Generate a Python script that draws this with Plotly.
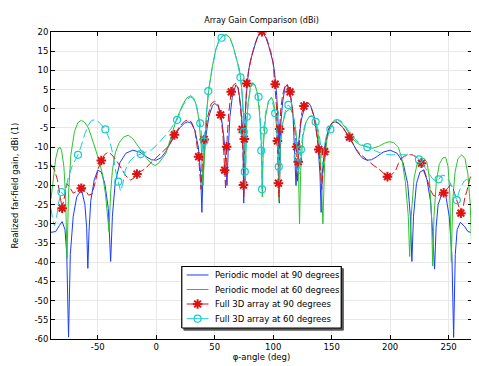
import plotly.graph_objects as go

# ---------------- data ----------------
series_names = ["Periodic model at 90 degrees", "Periodic model at 60 degrees",
                "Full 3D array at 90 degrees", "Full 3D array at 60 degrees"]

blue_points = [(-90,-32.2),(-86,-32.0),(-83,-30.5),(-80.5,-29.4),(-78,-31.5),(-76.5,-38),(-75,-59.5),(-73.5,-38),
    (-71,-28),(-68,-23),(-64,-21),(-61,-25),(-59.5,-31),(-58.5,-41.6),(-57.5,-32),(-56,-24),(-53,-18.5),(-50,-16),
    (-47,-16.5),(-44,-19.5),(-41,-26),(-39,-39.8),(-37.5,-28),(-35,-19),(-31,-14),(-26,-11.6),(-20,-10.8),(-14,-11.3),
    (-8,-12.6),(-4,-13.3),(0,-13.4),(4,-12.8),(8,-11.2),(12,-9),(16,-6.9),(20,-5),(24,-3.8),(27,-3.4),(30,-3.8),
    (33,-5.6),(36,-10),(38,-17),(39,-27),(40,-17),(42,-8),(45,-2),(48,0.8),(50,1.4),(53,0.6),(56,-3),(58,-8),
    (59.5,-14),(60.5,-20),(61.5,-11),(63,-2),(65,3),(68,6.2),(70,5.5),(72,1.5),(73.5,-4),(74.3,-11),(74.8,-24.6),
    (75.4,-8),(76,-2),(77,3.5),(77.7,6.6),(79,10),(80.5,12.5),(82,14.2),(84,16.5),(86,18.3),(88,19.5),(90,20),
    (92,19.5),(94,18.3),(96,16.5),(98,14.2),(99.5,12.5),(101,10),(102.3,6.6),(103,3.5),(104,-2),(104.6,-8),
    (105.2,-24.6),(105.7,-11),(106.5,-4),(108,1.5),(110,5.5),(112,6.2),(115,3),(117,-2),(118.5,-11),(119.5,-20),
    (120.5,-14),(122,-8),(124,-3),(127,0.6),(130,1.4),(132,0.8),(135,-2),(138,-8),(140,-17),(141,-27),(142,-17),
    (144,-10),(147,-5.6),(150,-3.8),(153,-3.4),(156,-3.8),(160,-5),(164,-6.9),(168,-9),(172,-11.2),(176,-12.8),
    (180,-13.4),(184,-13.3),(188,-12.6),(194,-11.3),(200,-10.8),(206,-11.6),(211,-14),(215,-19.5),(217.3,-28),
    (218.6,-39.8),(220,-28),(222.5,-19.5),(225.5,-16.5),(228.5,-16),(231.5,-18.5),(234.5,-24),(236.3,-32),
    (238,-41.8),(239.3,-31),(241,-25),(244.5,-22),(247.5,-22.5),(250.5,-28),(252.8,-38),(254.3,-59.6),
    (255.7,-38),(257.3,-31.5),(260,-29.6),(263.5,-30.6),(266.5,-32),(270,-32.3)]

green_points = [(-90,-23.5),(-88,-18),(-86,-13),(-84,-10.5),(-82.5,-10),(-81,-10.8),(-79,-15),(-77.5,-23),(-76.3,-39),
    (-75,-22),(-73,-12),(-70,-6),(-67,-3.6),(-64,-3),(-61,-3.6),(-58,-5),(-55,-7.5),(-52,-10.5),(-49,-13.5),(-46,-17),
    (-43.5,-22),(-41.5,-28),(-40.4,-32),(-39,-22),(-37.5,-16),(-35,-11.5),(-32,-9),(-28,-7.4),(-24,-6.9),(-20,-7.8),
    (-16,-9.4),(-12,-11.3),(-8,-13),(-4,-14.3),(-1,-14.8),(2,-14.2),(5,-13),(8,-11.8),(11,-9),(14,-5.7),(17,-3),
    (20,-0.8),(23,1.3),(26,2.8),(29.5,3.4),(32,2.8),(34.5,0.8),(36.5,-3),(38.5,-10),(40,-20),(41.5,-9),(43,-1),
    (45,5),(48,11),(51,15.5),(54,18),(57,19.1),(60,19.3),(63,18.5),(66,16),(69,12.5),(71,10.5),(72,8.2),(73,5.5),
    (74.5,-1),(75.5,-8),(76.2,-20),(77,-6),(78.5,1.5),(80.5,5.5),(82.5,6.8),(84.5,6.2),(86.5,4),(88.5,-2),(90,-10),
    (90.7,-23),(91.5,-10),(93.5,-2),(96,2),(98.5,3),(100.5,1.5),(102.5,-3),(104,-10),(105,-24),(106,-10),(108,-4),
    (110.5,-1),(114.5,0.1),(117,-1.5),(119.5,-6),(121.5,-14),(122.5,-30),(123.5,-16),(125.5,-7),(128,-3.5),
    (131,-2),(133.5,-1.8),(136,-3),(138.5,-6.5),(140.5,-13),(142.5,-30),(144,-14),(146,-8),(149,-4.5),(152,-3),
    (155,-2.8),(158,-3.5),(162,-5),(166,-7),(170,-8.5),(174,-9.4),(180,-10),(185,-10.3),(190,-9.8),(195,-9),
    (199,-8.6),(203,-8.8),(207,-10),(210,-13),(213,-19),(215.5,-28),(216.7,-38.5),(218,-28),(220.5,-18),
    (223,-14.5),(226,-13),(229,-12.9),(231.5,-14),(233.5,-18),(235.3,-27),(236.4,-41),(237.5,-28),(239.5,-19),
    (242,-14.5),(245,-12.8),(247.5,-12.7),(249.5,-15),(251,-22),(252.3,-39.8),(253.5,-24),(255.5,-16.5),
    (258,-13),(261.3,-12),(264,-13),(266.5,-17),(268.5,-25),(270,-39)]

red_points = [(-90,-14.5),(-87,-16),(-84.5,-18.5),(-82.5,-22.5),(-80.5,-25.9),(-78.5,-23),(-76.5,-19.5),(-74,-20.5),
    (-71,-22),(-68,-21.5),(-64,-20.7),(-61,-21),(-58,-22.5),(-55,-22.3),(-52,-19),(-49.5,-15.5),(-47,-13.5),
    (-44,-11.9),(-41,-11.3),(-38,-12),(-34,-13.5),(-30,-15.5),(-26,-17.5),(-22,-18.6),(-19,-18),(-16.5,-17),
    (-13,-16.3),(-9,-15.5),(-5,-14.2),(0,-12.8),(5,-11.3),(10,-9.9),(15.5,-6.8),(20,-4.6),(24,-3.3),(27,-2.9),
    (30,-3.4),(33,-5.6),(36.2,-12.5),(37.4,-17),(38.3,-21),(39.2,-15),(41,-8),(44,-2),(47,1.3),(50,2),(53,1),
    (55.1,-1.6),(57,-6.5),(58.5,-16),(59.3,-21),(60.2,-9.9),(62,-1),(64.1,4.4),(66,6.2),(68,6.6),(70,5.3),
    (72,0.5),(73.4,-5.4),(74.2,-12),(74.6,-19.9),(74.9,-23),(75.3,-7.9),(76,-2),(76.7,3),(77.4,6.6),(79,10),
    (80.5,12.5),(82,14.2),(84,16.5),(86,18.3),(88,19.5),(90.4,20.1),(92.5,19.5),(94.5,18.3),(96.5,16.5),
    (98.5,14.2),(100,12),(101.7,6.4),(102.7,1),(103.6,-8.4),(104.5,-19.4),(104.9,-23),(105.5,-5.3),(106.5,0),
    (108,3.5),(110,5.8),(112,6.4),(114.4,4.4),(116.5,0),(118.5,-5.5),(120,-9.9),(120.7,-19),(121.4,-13.8),
    (123,-4.5),(124.5,-1),(126.3,0.7),(128,1.5),(130,1.6),(132,0.8),(134.5,-1.6),(137,-6),(139,-10.6),
    (140.5,-16),(141.4,-21),(142.4,-17),(144,-11.2),(146,-7),(148,-4.8),(150.5,-3.6),(153,-3.2),(156,-3.8),
    (160,-5.2),(165.3,-7.4),(170,-10.2),(173.7,-11.6),(178,-12.8),(182.2,-13.8),(186,-14.8),(190.7,-15.8),
    (194,-16.8),(197.7,-17.7),(201,-17.3),(204.8,-16),(207,-14.3),(209,-13.2),(212,-12.4),(216,-12),(219,-12),
    (221.8,-12.5),(224,-13.2),(226.8,-14.2),(230,-16.8),(232.5,-19),(234.5,-21.2),(237,-22.6),(240,-22.8),
    (243,-22.2),(245.8,-21.9),(249,-20.8),(251.5,-19.8),(253.5,-20.5),(255.5,-22.5),(257.5,-24.5),(259,-26.3),
    (260.5,-27.2),(262.5,-25.5),(264,-23),(265.5,-21.6),(267,-19.8),(268.5,-17.5),(270,-16)]

cyan_points = [(-90,-26),(-88.5,-29),(-87,-30.5),(-85.5,-29),(-83.5,-24.5),(-81.1,-21.7),(-79,-22.5),(-77,-20.5),
    (-75,-17.7),(-72,-15),(-69,-13.2),(-66.9,-12),(-64,-9.5),(-61,-6.5),(-58,-4.2),(-55,-3),(-52,-2.9),(-49,-3.5),
    (-46,-4.5),(-43.5,-5.4),(-40,-8),(-37,-12),(-34.5,-16.5),(-32.5,-19),(-30.5,-21.5),(-28.5,-19.5),(-26.5,-16),
    (-23,-13.8),(-19,-12.6),(-15,-12),(-13.3,-11.8),(-9,-11.4),(-4,-10.7),(0,-9.6),(4,-8.3),(8,-6.8),(12,-5.5),
    (15,-4),(17.8,-2.9),(20,-1.3),(23,0.9),(26,2.4),(29.5,3.1),(32,2.5),(34.5,0.4),(36.5,-2.5),(37.6,-3.8),
    (39,-7.5),(40,-12),(41,-8.5),(42,-4),(43,0),(44.5,4.6),(48,11),(51,15.5),(54,18),(55.8,18.5),(57,19),
    (60,19.2),(63,18.4),(66,16),(69,12.5),(72,8.2),(73.5,4),(74.9,-6),(75.7,-16.4),(76.2,-20),(76.8,-8),
    (77.4,-2.1),(79,2),(80.5,5),(82.5,6.5),(84.5,6),(87.5,3.1),(89,-3),(89.8,-10.9),(90.5,-21),(91.2,-10),
    (91.8,-5.7),(93.5,-1),(96,2),(98.5,2.8),(100.3,0.7),(101.7,-1.2),(103,-5),(104.3,-11),(104.8,-15.1),
    (105.2,-19),(105.8,-10),(107,-5),(109,-2),(111,0.3),(113,1),(115,0.3),(117,-1.5),(119,-5),(120.9,-12.5),
    (122.2,-17),(123.7,-10.6),(125.5,-6),(128,-3.5),(131,-2),(133.5,-2),(136.3,-3.4),(139,-6),(140.8,-10),
    (142.3,-15),(143.5,-10),(145.5,-7),(148.9,-5.4),(152,-3.6),(155,-2.8),(158,-3.2),(162,-4.6),(166,-6.5),
    (170,-8),(175,-9.2),(180.5,-10),(186,-10.8),(192,-11.6),(199,-12),(206,-12),(213,-12),(218,-12),
    (221.8,-12.3),(224.6,-13.2),(227.5,-14.2),(230.2,-15.5),(233,-16.8),(235.9,-18.1),(238.5,-18.8),
    (241.5,-18.4),(244.3,-17.3),(247,-17.5),(250,-18.6),(252.5,-20),(254.2,-21.6),(257,-23.8),(258.5,-22),
    (261.3,-19.9),(263.5,-18.8),(265.5,-18.4),(267.5,-18.8),(270,-19.4)]

red_star_points = [(-80.5,-25.9),(-64.1,-20.7),(-47,-13.5),(-16.5,-17),(15.5,-6.8),(36.2,-12.5),(41,-8),
    (55.1,-1.6),(58.5,-16),(60.2,-9.9),(64.1,4.4),(73.4,-5.4),(74.6,-19.9),(75.3,-7.9),(77.4,6.6),(90.4,20.1),
    (101.7,6.4),(103.6,-8.4),(104.5,-19.4),(105.5,-5.3),(114.4,4.4),(120,-9.9),(121.4,-13.8),(126.3,0.7),
    (139,-10.6),(144,-11.2),(165.3,-7.4),(197.7,-17.7),(226.8,-14.2),(245.8,-21.9),(260.5,-27.2)]

cyan_circle_points = [(-81.1,-21.7),(-66.9,-12),(-43.5,-5.4),(-32.5,-19),(-13.3,-11.8),(17.8,-2.9),(37.6,-3.8),
    (41,-8.5),(44.5,4.6),(55.8,18.5),(72,8.2),(74.9,-6),(75.7,-16.4),(77.4,-2.1),(87.5,3.1),(89.8,-10.9),
    (90.5,-21),(91.8,-5.7),(101.7,-1.2),(104.8,-15.1),(113,1),(120.9,-12.5),(123.7,-10.6),(136.3,-3.4),
    (148.9,-5.4),(180.5,-10),(224.6,-13.2),(241.5,-18.4),(257,-23.8)]

x_tick_vals = [-50, 0, 50, 100, 150, 200, 250]
x_tick_text = ["-50", "0", "50", "100", "150", "200", "250"]
y_tick_vals = [20, 15, 10, 5, 0, -5, -10, -15, -20, -25, -30, -35, -40, -45, -50, -55, -60]
y_tick_text = ["20", "15", "10", "5", "0", "-5", "-10", "-15", "-20", "-25", "-30", "-35", "-40",
               "-45", "-50", "-55", "-60"]

# ---------------- styles ----------------
FONT = "DejaVu Sans"
C_BLUE = "rgb(25,60,255)"
C_GREEN = "rgb(45,195,45)"
C_RED = "rgb(222,18,18)"
C_CYAN = "rgb(20,205,210)"

# the page adds an 8 px body margin, so the figure is 8 px smaller than the window
FIG_W, FIG_H = 471, 358


def split(points):
    return [p[0] for p in points], [p[1] for p in points]


fig = go.Figure()

bx, by = split(blue_points)
gx, gy = split(green_points)
rx, ry = split(red_points)
cx, cy = split(cyan_points)
sx, sy = split(red_star_points)
ox, oy = split(cyan_circle_points)

fig.add_trace(go.Scatter(x=bx, y=by, mode="lines", name=series_names[0], showlegend=False,
                         line=dict(color=C_BLUE, width=1)))
fig.add_trace(go.Scatter(x=gx, y=gy, mode="lines", name=series_names[1], showlegend=False,
                         line=dict(color=C_GREEN, width=1)))
fig.add_trace(go.Scatter(x=rx, y=ry, mode="lines", name=series_names[2], showlegend=False,
                         line=dict(color=C_RED, width=1, dash="8px,3px")))
fig.add_trace(go.Scatter(x=sx, y=sy, mode="markers", name=series_names[2], showlegend=False,
                         marker=dict(symbol="asterisk-open", size=8, color=C_RED,
                                     line=dict(color=C_RED, width=2))))
fig.add_trace(go.Scatter(x=cx, y=cy, mode="lines", name=series_names[3], showlegend=False,
                         line=dict(color=C_CYAN, width=1, dash="9px,4px")))
fig.add_trace(go.Scatter(x=ox, y=oy, mode="markers", name=series_names[3], showlegend=False,
                         marker=dict(symbol="circle-open", size=7, color=C_CYAN,
                                     line=dict(color=C_CYAN, width=1.2))))

# ---------------- hand-drawn legend on an overlay axis (0..1 = plot area) ----------------
LX0, LX1, LY0, LY1 = 0.3106, 0.6894, 0.0358, 0.2362
SH_X, SH_Y = 0.005, 0.007
fig.add_trace(go.Scatter(x=[LX0 + SH_X, LX1 + SH_X, LX1 + SH_X, LX0 + SH_X, LX0 + SH_X],
                         y=[LY0 - SH_Y, LY0 - SH_Y, LY1 - SH_Y, LY1 - SH_Y, LY0 - SH_Y],
                         xaxis="x2", yaxis="y2", mode="lines", fill="toself",
                         fillcolor="rgb(90,90,90)", line=dict(color="rgb(90,90,90)", width=1),
                         showlegend=False, hoverinfo="skip"))
fig.add_trace(go.Scatter(x=[LX0, LX1, LX1, LX0, LX0], y=[LY0, LY0, LY1, LY1, LY0],
                         xaxis="x2", yaxis="y2", mode="lines", fill="toself",
                         fillcolor="white", line=dict(color="black", width=1.2),
                         showlegend=False, hoverinfo="skip"))
entry_y = [0.2085, 0.1612, 0.1140, 0.0661]
line_x = [0.3224, 0.3741]
mark_x = 0.3482
styles = [(C_BLUE, None, None), (C_GREEN, None, None), (C_RED, "asterisk-open", 8),
          (C_CYAN, "circle-open", 7)]
for name, yy, (col, sym, sz) in zip(series_names, entry_y, styles):
    fig.add_trace(go.Scatter(x=line_x, y=[yy, yy], xaxis="x2", yaxis="y2", mode="lines",
                             line=dict(color=col, width=1), showlegend=False, hoverinfo="skip"))
    if sym:
        fig.add_trace(go.Scatter(x=[mark_x], y=[yy], xaxis="x2", yaxis="y2", mode="markers",
                                 marker=dict(symbol=sym, size=sz, color=col,
                                             line=dict(color=col, width=2 if "aster" in sym else 1.2)),
                                 showlegend=False, hoverinfo="skip"))
    fig.add_annotation(x=0.3847, y=yy, xref="x2", yref="y2", text=name, showarrow=False,
                       xanchor="left", yanchor="middle", font=dict(family=FONT, size=8.5, color="black"))

axis_common = dict(showline=True, linecolor="black", linewidth=1, mirror="ticks",
                   ticks="inside", ticklen=4, tickcolor="black", tickwidth=1,
                   showgrid=True, gridcolor="rgb(232,232,232)", gridwidth=1, zeroline=False,
                   tickfont=dict(family=FONT, size=8.5, color="black"))

fig.update_layout(
    width=FIG_W, height=FIG_H,
    margin=dict(l=40, r=6, t=24, b=27),
    paper_bgcolor="white", plot_bgcolor="white",
    showlegend=False,
    font=dict(family=FONT, size=8.5, color="black"),
    title=dict(text="Array Gain Comparison (dBi)", x=0.5, xref="paper", xanchor="center",
               y=1 - 12 / FIG_H, yanchor="middle", font=dict(family=FONT, size=8, color="black")),
    xaxis=dict(range=[-90, 270], tickvals=x_tick_vals, ticktext=x_tick_text,
               title=dict(text="φ-angle (deg)", standoff=2, font=dict(family=FONT, size=8.5)),
               **axis_common),
    yaxis=dict(range=[-60, 20], tickvals=y_tick_vals, ticktext=y_tick_text,
               title=dict(text="Realized far-field gain, dBi (1)", standoff=14,
                          font=dict(family=FONT, size=8.5)),
               **axis_common),
    xaxis2=dict(range=[0, 1], overlaying="x", anchor="y2", visible=False, fixedrange=True),
    yaxis2=dict(range=[0, 1], overlaying="y", anchor="x2", visible=False, fixedrange=True),
)

fig.write_html("out.html")
